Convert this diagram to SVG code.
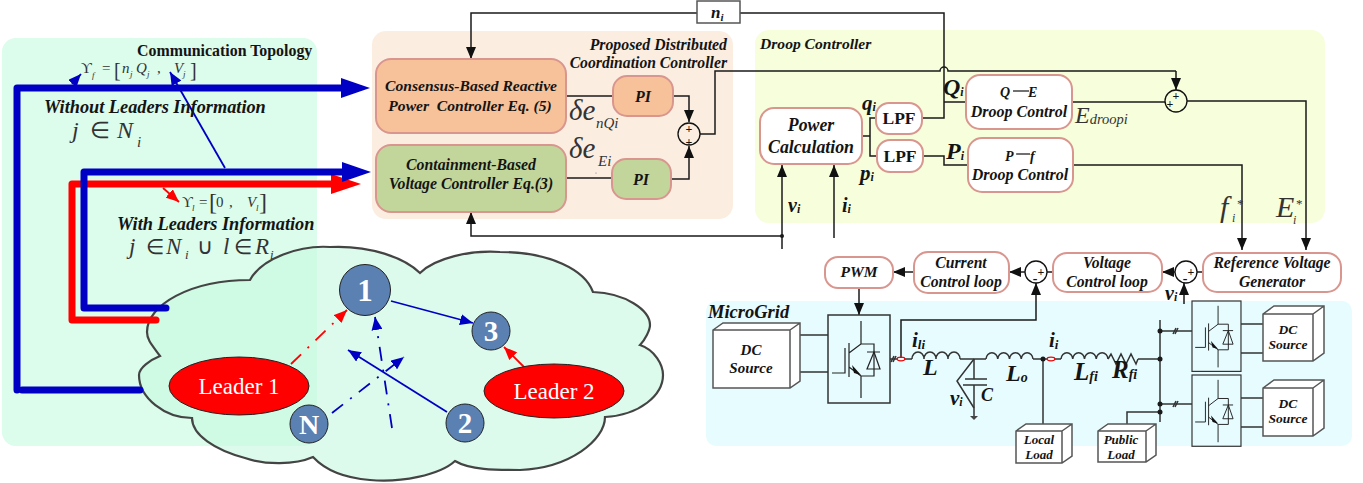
<svg xmlns="http://www.w3.org/2000/svg" xmlns:xlink="http://www.w3.org/1999/xlink" width="1363" height="483" viewBox="0 0 1363 483">
<style>
text{font-family:"Liberation Serif","Times New Roman",serif;fill:#141414}
.bi{font-weight:bold;font-style:italic}
.b{font-weight:bold}
.i{font-style:italic}
.m{text-anchor:middle}
.math{fill:#333}
.w{fill:#fff}
.wire{fill:none;stroke:#1a1a1a;stroke-width:1.5}
.wa{fill:none;stroke:#1a1a1a;stroke-width:1.5;marker-end:url(#a)}
.box{stroke:#d9968f;stroke-width:2}
.pl{fill:none;stroke:#333;stroke-width:1.5}
.pk{fill:#fff;stroke:#555;stroke-width:1.5}
.node{fill:#5b80b2;stroke:#222;stroke-width:1}
.lead{fill:#f00;stroke:#222;stroke-width:1}
.sum{fill:none;stroke:#111;stroke-width:1.3}
.tb{fill:none;stroke:#0000c4;stroke-width:7;stroke-linecap:round;stroke-linejoin:round}
.tr{fill:none;stroke:#f00;stroke-width:7;stroke-linecap:round;stroke-linejoin:round}
.bl{fill:none;stroke:#0000c4;stroke-width:1.8}
.rd{fill:none;stroke:#f00;stroke-width:1.8}
.dash{stroke-dasharray:14 9 2 9}
.dot{fill:#1a1a1a}
</style>
<defs>
<marker id="a" markerUnits="userSpaceOnUse" markerWidth="12" markerHeight="12" refX="12" refY="6" orient="auto" viewBox="0 0 12 12"><path d="M0 1L12 6L0 11Z" fill="#111"/></marker>
<marker id="hb" markerUnits="userSpaceOnUse" markerWidth="29" markerHeight="20" refX="0" refY="10" orient="auto" viewBox="0 0 29 20"><path d="M0 0L29 10L0 20Z" fill="#0000c4"/></marker>
<marker id="hr" markerUnits="userSpaceOnUse" markerWidth="30" markerHeight="20" refX="0" refY="10" orient="auto" viewBox="0 0 30 20"><path d="M0 0L30 10L0 20Z" fill="#f00"/></marker>
<marker id="sb" markerUnits="userSpaceOnUse" markerWidth="13" markerHeight="11" refX="13" refY="5.5" orient="auto" viewBox="0 0 13 11"><path d="M0 0L13 5.5L0 11Z" fill="#0000c4"/></marker>
<marker id="sr" markerUnits="userSpaceOnUse" markerWidth="13" markerHeight="11" refX="13" refY="5.5" orient="auto" viewBox="0 0 13 11"><path d="M0 0L13 5.5L0 11Z" fill="#f00"/></marker>
<g id="igbt">
<rect x="0" y="0" width="62" height="88" fill="none" stroke="#333" stroke-width="1.5"/>
<path d="M4 58H17V33M21 28V62M21 38L33 29V6M21 52L33 61V83M33 29H46V61H33" fill="none" stroke="#222" stroke-width="1.2"/>
<path d="M24 50L33 60L26 58Z" fill="#111"/>
<path d="M46 37L39 54H52ZM39 37H52" fill="none" stroke="#222" stroke-width="1.2"/>
</g>
</defs>

<g id="backgrounds">
<rect x="2" y="38" width="315" height="408" rx="14" fill="#dcfcec"/>
<rect x="372" y="31" width="361" height="188" rx="14" fill="#fbeee1"/>
<rect x="755" y="30" width="570" height="193" rx="14" fill="#f6fedc"/>
<rect x="706" y="301" width="646" height="145" rx="10" fill="#e6fcff"/>
</g>

<g id="cloud">
<path d="M250 280C262 258 300 245 330 247C370 245 405 258 420 273C435 258 470 250 500 252C550 252 585 270 593 292C625 293 650 310 650 325C650 330 645 340 640 345C655 350 663 365 663 375C663 395 640 415 605 417C605 440 570 468 520 470C495 470 470 470 455 461C440 475 400 483 370 480C345 478 325 470 313 457C295 465 265 465 245 458C215 450 192 435 192 418C165 418 139 398 139 375C139 368 150 360 160 356C152 345 147 340 147 332C147 305 190 280 250 280Z" fill="#c6f9e0" fill-opacity=".6" stroke="#444" stroke-width="2.2"/>
</g>

<g id="connectors">
<path class="tb" d="M140 390H22"/>
<path class="tb" d="M17 390V88H341" marker-end="url(#hb)"/>
<path class="tr" d="M156 320H72V184H331" marker-end="url(#hr)"/>
<path class="tb" d="M166 308H84V172H342" marker-end="url(#hb)"/>
<path class="bl" d="M72 84L81 74" marker-end="url(#sb)"/>
<path class="bl" d="M225 168L170 72" marker-end="url(#sb)"/>
<path class="rd" d="M163 188L179 202" marker-end="url(#sr)"/>
<path class="bl" d="M391 301L473 323" marker-end="url(#sb)"/>
<path class="rd" d="M524 367L504 347" marker-end="url(#sr)"/>
<path class="rd dash" d="M291 364L347 310" marker-end="url(#sr)"/>
<path class="bl" d="M447 412L348 350" marker-end="url(#sb)"/>
<path class="bl dash" d="M332 413L404 357" marker-end="url(#sb)"/>
<path class="bl dash" d="M392 428L375 317" marker-end="url(#sb)"/>

<path class="wa" d="M697 13H471V59"/>
<path class="wire" d="M740 13H944V118H922"/>
<path class="wire" d="M566 96H613M566 178H612"/>
<path class="wa" d="M673 96H689V122"/>
<path class="wa" d="M671 179H689V146"/>
<path class="wire" d="M700 134H715V71H940A4 4 0 0 1 948 71H1176"/>
<path class="wa" d="M1176 71V90"/>
<path class="wire" d="M944 102H966"/>
<path class="wire" d="M1072 102H1165"/>
<path class="wa" d="M1187 101H1306V250"/>
<path class="wa" d="M1073 165H1242V250"/>
<path class="wire" d="M862 136H870M876 118H870V156H877"/>
<path class="wire" d="M923 156H944V165H968"/>
<path class="wa" d="M782 236H471V212"/>
<path class="wa" d="M782 249V165"/>
<path class="wa" d="M834 238V165"/>
<circle class="dot" cx="782" cy="236" r="2"/>
<path class="wire" d="M1203 272H1197M1053 272H1047"/>
<path class="wa" d="M1175 272H1162"/>
<path class="wa" d="M1025 272H1009"/>
<path class="wa" d="M914 272H893"/>
<path class="wa" d="M859 288V315"/>
<path class="wa" d="M1184 304V283"/>
<path class="wa" d="M901 358V320H1036V283"/>

<path class="pl" d="M800 335H828M800 372H828M1241 324H1263M1241 353H1263M1241 398H1263M1241 427H1263"/>
<path class="pl" d="M890 359H897M905 359H912M960 359H986M1033 359H1047M1055 359H1061M1138 359H1160"/>
<path class="pl" d="M912 359a6 7 0 0 1 12 0a6 7 0 0 1 12 0a6 7 0 0 1 12 0a6 7 0 0 1 12 0"/>
<path class="pl" d="M986 359a5.9 7 0 0 1 11.75 0a5.9 7 0 0 1 11.75 0a5.9 7 0 0 1 11.75 0a5.9 7 0 0 1 11.75 0"/>
<path class="pl" d="M1061 359a5.9 7 0 0 1 11.75 0a5.9 7 0 0 1 11.75 0a5.9 7 0 0 1 11.75 0a5.9 7 0 0 1 11.75 0"/>
<path class="pl" d="M1108 359l3 -5l5 10l5 -10l5 10l5 -10l5 10l2 -5"/>
<path class="pl" d="M1160 320V422M1160 331H1192M1160 404H1192M1160 412H1127V425M1043 359V424"/>
<path class="pl" d="M1173 334l3 -6M1175 334l3 -6M1173 407l3 -6M1175 407l3 -6M891 362l3 -6M893 362l3 -6"/>
<path class="pl" d="M974 359V379M965 379H987M963 385H987M974 385V417"/>
<path class="pl" d="M974 359L957 381L974 408" stroke-width="1"/>
<path d="M970 416H978L974 420Z" fill="#444"/>
<g fill="#1a1a1a"><circle cx="1043" cy="359" r="2.5"/><circle cx="1160" cy="331" r="2.5"/><circle cx="1160" cy="359" r="2.5"/><circle cx="1160" cy="404" r="2.5"/><circle cx="1160" cy="412" r="2.5"/></g>
<g fill="none" stroke="#e00" stroke-width="1.2"><ellipse cx="901" cy="359" rx="3.8" ry="1.8"/><ellipse cx="1051" cy="359" rx="3.8" ry="1.8"/></g>
</g>

<g id="topology-labels">
<text class="b" x="137" y="55.5" font-size="15.9">Communication Topology</text>
<text class="math" x="81" y="73" font-size="15">ϒ</text><text class="math i" x="92" y="78" font-size="9">f</text>
<text class="math" x="102" y="73" font-size="15">=</text>
<text class="math" x="114" y="76.5" font-size="20">[</text>
<text class="math i" x="122" y="73" font-size="15">n</text><text class="math i" x="130" y="77" font-size="9">j</text>
<text class="math i" x="136" y="73" font-size="15">Q</text><text class="math i" x="147" y="77" font-size="9">j</text>
<text class="math" x="157" y="73" font-size="15">,</text>
<text class="math i" x="174" y="73" font-size="15">V</text><text class="math i" x="183" y="77" font-size="9">j</text>
<text class="math" x="190" y="76.5" font-size="20">]</text>
<text class="bi" x="44" y="113" font-size="18.3">Without Leaders Information</text>
<text class="math i" x="72" y="138" font-size="24">j</text>
<text class="math" x="90" y="138" font-size="23">∈</text>
<text class="math i" x="117" y="138" font-size="24">N</text>
<text class="math i" x="137" y="147" font-size="15">i</text>
<text class="math" x="182" y="207" font-size="15">ϒ</text><text class="math i" x="192" y="211" font-size="9">l</text>
<text class="math" x="199" y="207" font-size="15">=</text>
<text class="math" x="209" y="210" font-size="24">[</text>
<text class="math" x="216" y="207" font-size="15">0</text>
<text class="math" x="229" y="207" font-size="15">,</text>
<text class="math i" x="247" y="207" font-size="15">V</text><text class="math i" x="256" y="211" font-size="9">l</text>
<text class="math" x="259" y="210" font-size="24">]</text>
<text class="bi" x="117" y="230" font-size="18.3">With Leaders Information</text>
<text class="math i" x="129" y="254" font-size="23">j</text>
<text class="math" x="146" y="254" font-size="21">∈</text>
<text class="math i" x="166" y="254" font-size="23">N</text>
<text class="math i" x="185" y="259" font-size="13">i</text>
<text class="math" x="197" y="254" font-size="22">∪</text>
<text class="math i" x="223" y="254" font-size="23">l</text>
<text class="math" x="234" y="254" font-size="21">∈</text>
<text class="math i" x="255" y="254" font-size="23">R</text>
<text class="math i" x="270" y="259" font-size="13">i</text>
</g>

<g id="node-1"><ellipse class="node" cx="365" cy="290" rx="25.5" ry="25.5"/><text class="w m b" x="365" y="301" font-size="31">1</text></g>
<g id="node-3"><ellipse class="node" cx="491" cy="331" rx="19" ry="19"/><text class="w m b" x="491" y="341" font-size="29">3</text></g>
<g id="node-2"><ellipse class="node" cx="465" cy="423" rx="19" ry="19"/><text class="w m b" x="465" y="433" font-size="29">2</text></g>
<g id="node-N"><ellipse class="node" cx="309" cy="424" rx="19" ry="19"/><text class="w m b" x="309" y="434" font-size="28">N</text></g>
<g id="leader-1"><ellipse class="lead" cx="239" cy="386" rx="70" ry="29"/><text class="w m" x="239" y="394" font-size="23">Leader 1</text></g>
<g id="leader-2"><ellipse class="lead" cx="554" cy="391" rx="70" ry="27"/><text class="w m" x="554" y="399" font-size="23">Leader 2</text></g>

<g id="node-ni"><rect x="697" y="1" width="43" height="22" fill="#fff" stroke="#555" stroke-width="1.5"/><text class="bi" x="711" y="18" font-size="17">n<tspan font-size="11" dy="3">i</tspan></text></g>
<g id="title-coordination"><text class="bi" x="727" y="50" text-anchor="end" font-size="15.8">Proposed Distributed</text><text class="bi" x="727" y="68" text-anchor="end" font-size="15.7">Coordination Controller</text></g>
<g id="node-consensus"><rect class="box" x="376" y="59" width="190" height="74" rx="15" fill="#f7c199"/><text class="bi m" x="471" y="91" font-size="15.6">Consensus-Based Reactive</text><text class="bi m" x="470" y="111" font-size="15.6" xml:space="preserve">Power  Controller Eq. (5)</text></g>
<g id="node-containment"><rect class="box" x="376" y="145" width="190" height="67" rx="15" fill="#c2d69b"/><text class="bi m" x="471" y="170" font-size="15.8">Containment-Based</text><text class="bi m" x="471" y="189" font-size="15.8">Voltage Controller Eq.(3)</text></g>
<g id="node-pi1"><rect class="box" x="613" y="76" width="60" height="40" rx="14" fill="#f7c199"/><text class="bi m" x="643" y="102" font-size="16">PI</text></g>
<g id="node-pi2"><rect class="box" x="612" y="159" width="59" height="40" rx="14" fill="#c2d69b"/><text class="bi m" x="641" y="185" font-size="16">PI</text></g>
<g id="sum-1"><circle class="sum" cx="689" cy="134" r="11"/><text class="m b" x="689" y="133" font-size="12">+</text><text class="m b" x="689" y="146" font-size="12">+</text></g>
<g id="delta-labels"><text class="math i" x="569" y="120" font-size="29">δe</text><text class="math i" x="596" y="128" font-size="15">nQi</text><text class="math i" x="569" y="158" font-size="29">δe</text><text class="math i" x="598" y="166" font-size="15">Ei</text><circle cx="596" cy="173" r=".6" fill="#777"/></g>

<g id="title-droop"><text class="bi" x="760" y="49" font-size="15.6">Droop Controller</text></g>
<g id="node-power"><rect class="box" x="760" y="108" width="102" height="56" rx="14" fill="#fff"/><text class="bi m" x="811" y="131" font-size="17.8">Power</text><text class="bi m" x="811" y="153" font-size="17.8">Calculation</text></g>
<g id="node-lpf1"><rect class="box" x="876" y="103" width="46" height="31" rx="13" fill="#fff"/><text class="m b" x="899" y="124" font-size="17.5">LPF</text></g>
<g id="node-lpf2"><rect class="box" x="877" y="140" width="46" height="32" rx="13" fill="#fff"/><text class="m b" x="900" y="162" font-size="17.5">LPF</text></g>
<g id="node-qe"><rect class="box" x="966" y="75" width="106" height="54" rx="14" fill="#fff"/><text class="bi" x="1000" y="97" font-size="14">Q</text><path d="M1013 91H1029" stroke="#111" stroke-width="1.2"/><text class="bi" x="1028" y="97" font-size="14">E</text><text class="bi m" x="1019" y="117" font-size="16">Droop Control</text></g>
<g id="node-pf"><rect class="box" x="968" y="138" width="105" height="54" rx="14" fill="#fff"/><text class="bi" x="1005" y="161" font-size="14">P</text><path d="M1016 154H1030" stroke="#111" stroke-width="1.2"/><text class="bi" x="1030" y="161" font-size="14">f</text><text class="bi m" x="1020" y="180" font-size="16">Droop Control</text></g>
<g id="sum-2"><circle class="sum" cx="1176" cy="101" r="11"/><text class="m b" x="1176" y="100" font-size="12">+</text><text class="m b" x="1170" y="108" font-size="12">+</text></g>
<g id="signal-labels">
<text class="bi" x="862" y="110" font-size="21">q<tspan font-size="12" dy="1">i</tspan></text>
<text class="bi" x="860" y="180" font-size="21">p<tspan font-size="12" dy="1">i</tspan></text>
<text class="bi" x="943" y="95" font-size="24">Q<tspan font-size="12" dy="1">i</tspan></text>
<text class="bi" x="946" y="159" font-size="24">P<tspan font-size="12" dy="1">i</tspan></text>
<text class="bi" x="788" y="212" font-size="20">v<tspan font-size="12" dy="1">i</tspan></text>
<text class="bi" x="842" y="212" font-size="20">i<tspan font-size="12" dy="1">i</tspan></text>
<text class="math i" x="1075" y="123" font-size="24">E<tspan font-size="14.5" dy="1">droopi</tspan></text>
<text class="math i" x="1220" y="217" font-size="30">f</text><text class="math" x="1237" y="208" font-size="13">*</text><text class="math i" x="1232" y="222" font-size="12">i</text>
<text class="math i" x="1276" y="217" font-size="30">E</text><text class="math" x="1296" y="208" font-size="13">*</text><text class="math i" x="1293" y="224" font-size="12">i</text>
</g>

<g id="node-rvg"><rect class="box" x="1203" y="253" width="138" height="39" rx="14" fill="#fff"/><text class="bi m" x="1272" y="268" font-size="15.7">Reference Voltage</text><text class="bi m" x="1272" y="287" font-size="15.7">Generator</text></g>
<g id="node-vcl"><rect class="box" x="1053" y="253" width="109" height="39" rx="14" fill="#fff"/><text class="bi m" x="1107" y="268" font-size="15.7">Voltage</text><text class="bi m" x="1107" y="287" font-size="15.7">Control loop</text></g>
<g id="node-ccl"><rect class="box" x="914" y="252" width="95" height="41" rx="14" fill="#fff"/><text class="bi m" x="961" y="268" font-size="15.7">Current</text><text class="bi m" x="961" y="287" font-size="15.7">Control loop</text></g>
<g id="node-pwm"><rect class="box" x="825" y="257" width="68" height="31" rx="13" fill="#fff"/><text class="bi m" x="859" y="277" font-size="15.5">PWM</text></g>
<g id="sum-3"><circle class="sum" cx="1186" cy="272" r="11"/><text class="m b" x="1191" y="276" font-size="12">+</text><text class="m b" x="1185" y="283" font-size="14">-</text></g>
<g id="sum-4"><circle class="sum" cx="1036" cy="272" r="11"/><text class="m b" x="1041" y="276" font-size="12">+</text><text class="m b" x="1035" y="283" font-size="14">-</text></g>
<g id="label-vi-fb"><text class="bi" x="1165" y="300" font-size="20">v<tspan font-size="12" dy="1">i</tspan></text></g>

<g id="microgrid-title"><text class="bi" x="708" y="318" font-size="18.5">MicroGrid</text></g>
<g id="dc-source-main"><path class="pk" d="M713 330L723 323H800V381L790 388H713ZM790 330V388M790 330L800 323M713 330H790"/><text class="bi m" x="751" y="355" font-size="15">DC</text><text class="bi m" x="751" y="373" font-size="15">Source</text></g>
<g id="converter-main"><use xlink:href="#igbt" transform="translate(828 315)"/></g>
<g id="converter-2"><use xlink:href="#igbt" transform="translate(1192 301) scale(.79 .8)"/></g>
<g id="converter-3"><use xlink:href="#igbt" transform="translate(1192 375) scale(.79 .81)"/></g>
<g id="dc-source-2"><path class="pk" d="M1263 314L1274 306H1324V353L1313 361H1263ZM1313 314V361M1313 314L1324 306M1263 314H1313"/><text class="bi m" x="1288" y="334" font-size="13.5">DC</text><text class="bi m" x="1288" y="349" font-size="13.5">Source</text></g>
<g id="dc-source-3"><path class="pk" d="M1263 388L1274 380H1324V428L1313 436H1263ZM1313 388V436M1313 388L1324 380M1263 388H1313"/><text class="bi m" x="1288" y="408" font-size="13.5">DC</text><text class="bi m" x="1288" y="423" font-size="13.5">Source</text></g>
<g id="local-load"><path class="pk" d="M1016 431L1026 424H1072V456L1062 463H1016ZM1062 431V463M1062 431L1072 424M1016 431H1062"/><text class="bi m" x="1039" y="444" font-size="13">Local</text><text class="bi m" x="1039" y="459" font-size="13">Load</text></g>
<g id="public-load"><path class="pk" d="M1098 431L1108 424H1156V455L1146 462H1098ZM1146 431V462M1146 431L1156 424M1098 431H1146"/><text class="bi m" x="1121" y="444" font-size="13">Public</text><text class="bi m" x="1121" y="459" font-size="13">Load</text></g>
<g id="circuit-labels">
<text class="bi" x="912" y="347" font-size="21">i<tspan font-size="13" dy="2">li</tspan></text>
<text class="bi" x="923" y="375" font-size="24">L</text>
<text class="bi" x="1006" y="381" font-size="24">L<tspan font-size="14" dy="1">o</tspan></text>
<text class="bi" x="950" y="405" font-size="21">v<tspan font-size="12" dy="1">i</tspan></text>
<text class="bi" x="981" y="401" font-size="18">C</text>
<text class="bi" x="1049" y="347" font-size="21">i<tspan font-size="13" dy="2">i</tspan></text>
<text class="bi" x="1074" y="380" font-size="25">L<tspan font-size="14" dy="1">fi</tspan></text>
<text class="bi" x="1112" y="378" font-size="25">R<tspan font-size="14" dy="1">fi</tspan></text>
</g>
</svg>
